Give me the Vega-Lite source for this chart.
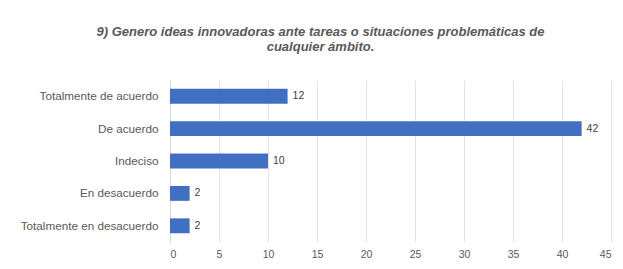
{
  "$schema": "https://vega.github.io/schema/vega-lite/v6.json",
  "width": 441,
  "height": 162,
  "autosize": {"type": "none"},
  "padding": {"left": 170, "top": 80, "right": 12, "bottom": 27},
  "background": "#ffffff",
  "title": {
    "text": ["9) Genero ideas innovadoras ante tareas o situaciones problemáticas de", "cualquier ámbito."],
    "anchor": "middle",
    "dx": -70,
    "offset": 26,
    "font": "Liberation Sans",
    "fontSize": 13,
    "fontStyle": "italic",
    "fontWeight": "bold",
    "color": "#595959",
    "lineHeight": 15
  },
  "data": {
    "values": [
      {"respuesta": "Totalmente de acuerdo", "n": 12},
      {"respuesta": "De acuerdo", "n": 42},
      {"respuesta": "Indeciso", "n": 10},
      {"respuesta": "En desacuerdo", "n": 2},
      {"respuesta": "Totalmente en desacuerdo", "n": 2}
    ]
  },
  "encoding": {
    "y": {
      "field": "respuesta",
      "type": "nominal",
      "sort": null,
      "scale": {"paddingInner": 0.54, "paddingOuter": 0.27},
      "axis": {
        "title": null,
        "ticks": false,
        "domain": true,
        "domainColor": "#d9d9d9",
        "labelFont": "Liberation Sans",
        "labelFontSize": 11.7,
        "labelColor": "#595959",
        "labelPadding": 12
      }
    },
    "x": {
      "field": "n",
      "type": "quantitative",
      "scale": {"domain": [0, 45]},
      "axis": {
        "title": null,
        "values": [0, 5, 10, 15, 20, 25, 30, 35, 40, 45],
        "ticks": false,
        "domain": false,
        "grid": true,
        "gridColor": "#e3e3e3",
        "labelFont": "Liberation Sans",
        "labelFontSize": 10.5,
        "labelColor": "#595959",
        "labelPadding": 7
      }
    }
  },
  "layer": [
    {"mark": {"type": "bar", "color": "#4170C2"}},
    {
      "mark": {"type": "text", "align": "left", "dx": 5, "font": "Liberation Sans", "fontSize": 10.5, "color": "#404040"},
      "encoding": {"text": {"field": "n", "type": "quantitative"}}
    }
  ],
  "config": {"view": {"stroke": null}}
}
